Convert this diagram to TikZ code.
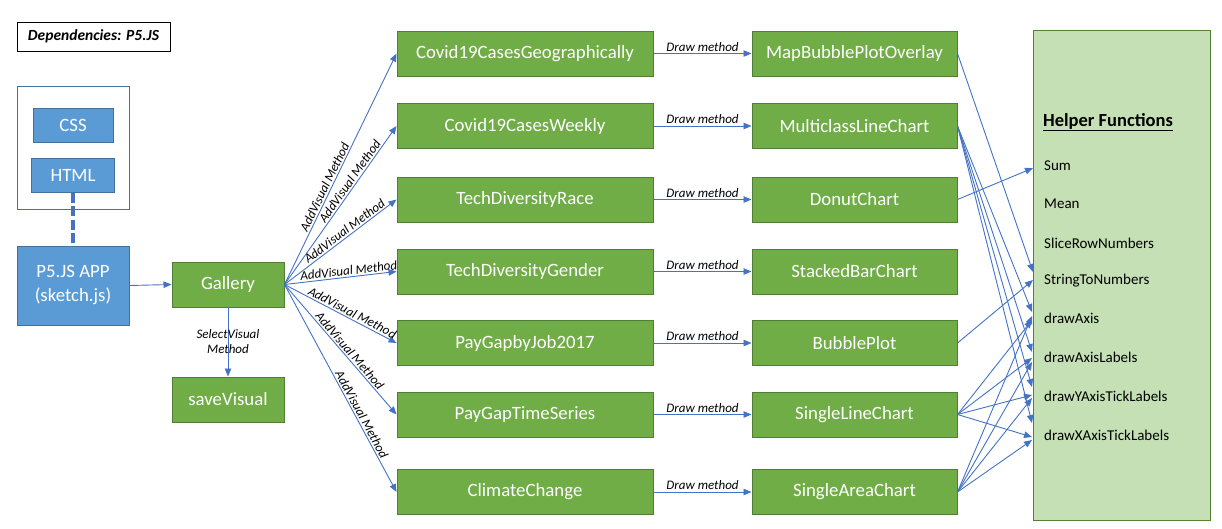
\documentclass[tikz,border=0pt]{standalone}
\usepackage{fontspec}
\setmainfont{Carlito}
\usetikzlibrary{arrows.meta}
\definecolor{boxgreen}{RGB}{112, 173, 71}
\definecolor{edgegreen}{RGB}{80, 126, 50}
\definecolor{boxblue}{RGB}{91, 155, 213}
\definecolor{edgeblue}{RGB}{65, 113, 156}
\definecolor{linkblue}{RGB}{68, 114, 196}
\definecolor{helpgreen}{RGB}{197, 224, 180}
\definecolor{helpedge}{RGB}{84, 130, 53}

\begin{document}
\begin{tikzpicture}[x=1pt, y=-1pt,
  visbox/.style={draw=edgegreen, fill=boxgreen, text=white, line width=1pt, inner sep=0pt,
    minimum height=45pt, font=\fontsize{18.8}{20}\selectfont},
  appbox/.style={draw=edgeblue, fill=boxblue, text=white, line width=1pt, inner sep=0pt,
    font=\fontsize{18.8}{24}\selectfont},
  link/.style={linkblue, line width=0.9pt, -{Triangle[length=8pt, width=6.5pt]}},
  tag/.style={font=\fontsize{13}{15}\selectfont\itshape, text=black, inner sep=1.5pt},
  helper/.style={anchor=west, inner sep=1pt, font=\fontsize{15}{18}\selectfont}]
  \useasboundingbox (0, 0) rectangle (1222, 528);

  % left side: page, app, gallery
  \node[draw=black, line width=0.8pt, minimum width=153pt, minimum height=29pt,
    font=\fontsize{15.5}{17}\selectfont\bfseries\itshape] (dep) at (93.5, 36.5) {Dependencies: P5.JS};
  \node[draw=edgeblue, fill=white, line width=1pt, minimum width=112pt, minimum height=123pt] (web) at (73, 147.5) {};
  \node[appbox, minimum width=80pt, minimum height=34pt] (css) at (73, 125) {CSS};
  \node[appbox, minimum width=83pt, minimum height=34pt] (html) at (73, 175) {HTML};
  \node[appbox, minimum width=112pt, minimum height=79pt, align=center] (p5) at (73, 285.5) {P5.JS APP\\(sketch.js)};
  \draw[linkblue, line width=3.5pt, dash pattern=on 10pt off 3.5pt] (html.south) -- (p5.north);

  \node[visbox, minimum width=112pt] (gal) at (228, 284.5) {Gallery};
  \node[visbox, minimum width=112pt] (save) at (228, 399.5) {saveVisual};
  \draw[link] (p5.east) -- (gal.west);
  \draw[link] (gal) -- node[tag, align=center] {SelectVisual\\Method} (save);

  % visuals and their charts
  \foreach \i/\vis/\chart/\y in {1/Covid19CasesGeographically/MapBubblePlotOverlay/53.5,
      2/Covid19CasesWeekly/MulticlassLineChart/126, 3/TechDiversityRace/DonutChart/199.5,
      4/TechDiversityGender/StackedBarChart/271.5, 5/PayGapbyJob2017/BubblePlot/343,
      6/PayGapTimeSeries/SingleLineChart/414.5, 7/ClimateChange/SingleAreaChart/492} {
    \node[visbox, minimum width=256pt] (v\i) at (525, \y) {\vis};
    \node[visbox, minimum width=205pt] (c\i) at (854.5, \y) {\chart};
    \draw[link] (v\i) -- node[tag, above] {Draw method} (c\i);
  }

  \foreach \i/\p in {1/0.41, 2/0.63, 3/0.57, 4/0.58, 5/0.58, 6/0.54, 7/0.64}
    \draw[link] (gal.east) -- node[tag, sloped, above, pos=\p] {AddVisual Method} (v\i.west);

  % helper functions
  \node[draw=helpedge, fill=helpgreen, line width=1pt, minimum width=177pt, minimum height=490pt] (help) at (1121.5, 275.5) {};
  \node[helper, font=\fontsize{18.5}{20}\selectfont\bfseries] (hf) at (1042, 122) {\underline{Helper Functions}};
  \foreach \n/\t/\y in {sum/Sum/166, mean/Mean/204, slice/SliceRowNumbers/243, str/StringToNumbers/281,
      dax/drawAxis/318, dal/drawAxisLabels/357, dyt/drawYAxisTickLabels/396, dxt/drawXAxisTickLabels/435}
    \node[helper] (\n) at (1043, \y) {\t};

  \draw[link] (c1.east) -- ([xshift=-10pt, yshift=9pt]str.west);
  \draw[link] (c3.east) -- ([xshift=-10pt, yshift=-2pt]sum.west);
  \draw[link] (c5.east) -- ([xshift=-10pt, yshift=1pt]str.west);
  \foreach \c/\a/\b/\d/\e in {2/6/5/9/12, 6/-2/-1/1/-2, 7/2/-5/-2/-5} {
    \draw[link] (c\c.east) -- ([xshift=-11pt, yshift=\a pt]dax.west);
    \draw[link] (c\c.east) -- ([xshift=-11pt, yshift=\b pt]dal.west);
    \draw[link] (c\c.east) -- ([xshift=-11pt, yshift=\d pt]dyt.west);
    \draw[link] (c\c.east) -- ([xshift=-11pt, yshift=\e pt]dxt.west);
  }
\end{tikzpicture}
\end{document}
